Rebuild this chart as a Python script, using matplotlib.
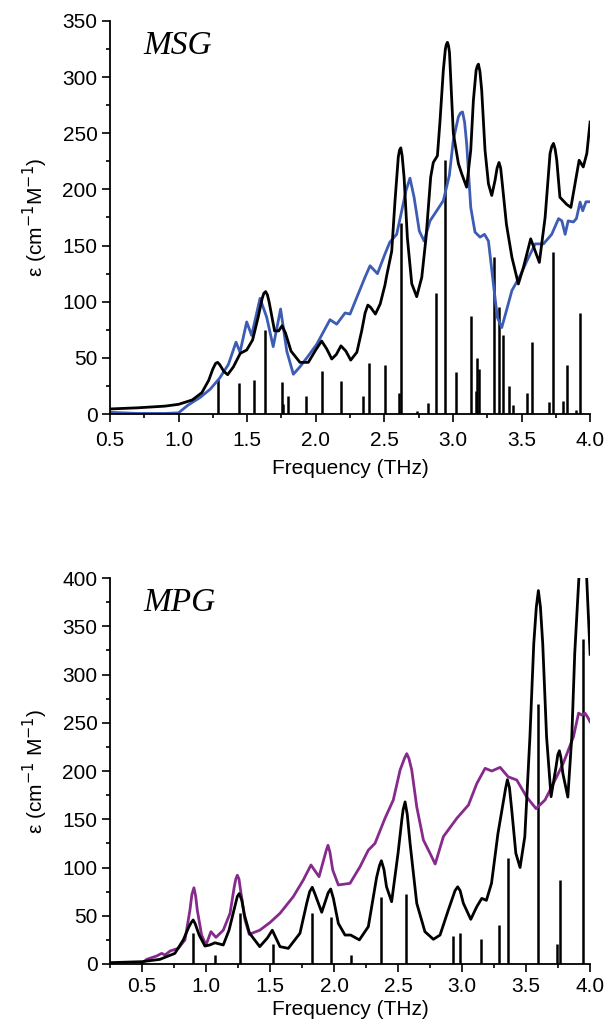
import matplotlib
matplotlib.use("Agg")
import matplotlib.pyplot as plt
from matplotlib.ticker import MultipleLocator, FormatStrFormatter

plt.rcParams['font.family'] = ['Liberation Sans', 'DejaVu Sans']

# ---------------- MSG panel ----------------
msg_calc_freq = [0.50, 0.70, 0.90, 1.00, 1.10, 1.17, 1.22, 1.25, 1.27, 1.285, 1.30, 1.33,
                 1.358, 1.40, 1.45, 1.497, 1.54, 1.58, 1.61, 1.622, 1.635, 1.648, 1.66, 1.70,
                 1.73, 1.755, 1.78, 1.82, 1.885, 1.946, 2.00, 2.043, 2.08, 2.117, 2.15, 2.184,
                 2.22, 2.255, 2.30, 2.335, 2.36, 2.38, 2.40, 2.435, 2.47, 2.505, 2.517, 2.554,
                 2.578, 2.602, 2.611, 2.62, 2.63, 2.644, 2.668, 2.70, 2.736, 2.773, 2.804,
                 2.838, 2.857, 2.887, 2.906, 2.93, 2.945, 2.952, 2.96, 2.968, 2.975, 3.003,
                 3.04, 3.064, 3.10, 3.13, 3.149, 3.169, 3.178, 3.186, 3.197, 3.21, 3.234,
                 3.259, 3.283, 3.307, 3.322, 3.336, 3.348, 3.36, 3.39, 3.43, 3.477, 3.514,
                 3.567, 3.63, 3.672, 3.708, 3.72, 3.733, 3.745, 3.757, 3.78, 3.83, 3.86,
                 3.89, 3.92, 3.95, 3.976, 4.00]
msg_calc_eps = [4.5, 5.5, 7.0, 8.6, 12.5, 19, 30, 40, 45, 46, 44, 38,
                35, 42, 54, 57, 66, 86, 103, 107.5, 109, 106, 100, 74,
                74, 78.6, 72, 56, 46, 46, 57, 65, 58, 49, 53, 60.7,
                56, 48, 55, 74, 90, 97, 95, 89, 98, 115, 123, 145,
                190, 229, 235, 237, 230, 211, 157, 116, 104.5, 121.7, 157,
                211, 224, 230, 261, 306, 325, 329, 331, 328, 322, 250,
                223, 214, 202, 235, 279, 306, 310, 311.6, 305, 288, 235,
                205, 194.6, 208, 219, 224, 219, 205, 169, 139.6, 115.8, 130.6,
                156, 135, 175, 232, 238, 241, 236, 226, 193, 186.6, 184,
                205, 226, 220, 232, 260]

msg_exp_freq = [0.50, 0.70, 0.90, 1.00, 1.07, 1.156, 1.23, 1.30, 1.363, 1.419, 1.448, 1.497,
                1.533, 1.594, 1.643, 1.69, 1.744, 1.789, 1.837, 1.885, 1.946, 2.007, 2.104,
                2.153, 2.214, 2.25, 2.31, 2.36, 2.396, 2.45, 2.505, 2.54, 2.59, 2.627, 2.658,
                2.687, 2.717, 2.755, 2.79, 2.833, 2.882, 2.93, 2.974, 3.003, 3.04, 3.055,
                3.07, 3.085, 3.10, 3.13, 3.161, 3.198, 3.23, 3.259, 3.295, 3.324, 3.356,
                3.39, 3.43, 3.49, 3.54, 3.60, 3.66, 3.72, 3.77, 3.794, 3.818, 3.84, 3.878,
                3.90, 3.927, 3.946, 3.97, 4.00]
msg_exp_eps = [1.5, 0.5, 0.5, 1.0, 8, 14.6, 22, 32, 44, 64, 55, 82,
               70, 103, 86, 60, 93.5, 56, 35.4, 42, 51.8, 62, 84,
               80, 90, 89, 107, 122, 132, 125, 142.6, 153, 160, 181, 199,
               210, 193, 163, 154, 172, 181, 190, 212.5, 244, 264.6, 268,
               269, 260, 241, 184, 162, 157.5, 160, 154, 115.8, 86, 77,
               92, 110, 123, 136.6, 151.5, 151.5, 160, 174, 172, 160, 172, 171,
               174, 188.7, 181, 189, 189]

msg_mode_freq = [1.285, 1.443, 1.55, 1.633, 1.752, 1.764, 1.796, 1.929, 2.048, 2.184,
                 2.342, 2.39, 2.505, 2.605, 2.622, 2.736, 2.82, 2.88, 2.94, 3.02, 3.135,
                 3.17, 3.176, 3.19, 3.30, 3.334, 3.366, 3.41, 3.44, 3.54, 3.575, 3.70,
                 3.73, 3.806, 3.83, 3.90, 3.927]
msg_mode_int = [31.5, 27.7, 30, 74.7, 28.6, 9, 16, 16, 38, 29.5,
                15.8, 45, 44, 18.5, 170, 2.7, 9.8, 108, 226, 37.5, 87,
                20.5, 50, 40, 140, 95, 70, 25, 8, 19, 64, 10.7,
                144, 11.6, 43.5, 3.6, 90]

# ---------------- MPG panel ----------------
mpg_calc_freq = [0.25, 0.50, 0.64, 0.757, 0.823, 0.865, 0.885, 0.90, 0.915, 0.947, 0.992,
                 1.03, 1.07, 1.135, 1.18, 1.23, 1.245, 1.26, 1.28, 1.30, 1.34, 1.42, 1.48,
                 1.518, 1.578, 1.643, 1.734, 1.787, 1.81, 1.83, 1.85, 1.904, 1.955, 1.974,
                 1.995, 2.034, 2.086, 2.13, 2.198, 2.268, 2.333, 2.355, 2.37, 2.39, 2.41,
                 2.45, 2.50, 2.53, 2.54, 2.555, 2.572, 2.594, 2.646, 2.71, 2.776, 2.828,
                 2.893, 2.945, 2.966, 2.985, 3.01, 3.068, 3.115, 3.154, 3.19, 3.23, 3.28,
                 3.34, 3.354, 3.37, 3.388, 3.42, 3.453, 3.49, 3.53, 3.56, 3.58, 3.596,
                 3.612, 3.63, 3.66, 3.695, 3.734, 3.748, 3.76, 3.772, 3.787, 3.826, 3.857,
                 3.88, 3.91, 3.93, 3.945, 3.96, 3.98, 4.00]
mpg_calc_eps = [1.4, 2.4, 4.8, 11, 25, 38, 43, 45.6, 42, 30, 18.6,
                19.7, 22, 19.7, 35, 62, 70, 73, 66, 51, 32, 18, 27,
                35, 18, 16.2, 31.8, 63, 75, 79.5, 73, 53.6, 74, 77.7,
                68, 42, 30, 30, 25, 38.7, 90, 102, 107, 98, 80,
                64.6, 114.7, 150, 160, 168, 155, 125, 63, 33.5, 25.6, 30,
                56, 76, 80, 76, 63, 46.3, 59.4, 68, 66, 83.6, 135,
                182, 191, 183, 159.6, 114.7, 100, 132, 235.5, 332, 370, 387,
                370, 332, 235.5, 173.4, 204.5, 217, 221, 214, 197.6, 173, 235.5,
                322, 394.5, 440, 470, 440, 380, 321]

mpg_exp_freq = [0.50, 0.537, 0.615, 0.654, 0.68, 0.72, 0.784, 0.836, 0.875, 0.89, 0.906,
                0.92, 0.932, 0.966, 1.00, 1.039, 1.078, 1.135, 1.188, 1.221, 1.233, 1.245,
                1.258, 1.27, 1.305, 1.338, 1.42, 1.50, 1.578, 1.682, 1.76, 1.82, 1.883,
                1.94, 1.953, 1.968, 1.99, 2.034, 2.125, 2.203, 2.268, 2.32, 2.398, 2.463,
                2.516, 2.55, 2.568, 2.585, 2.607, 2.646, 2.698, 2.75, 2.79, 2.854, 2.959,
                3.05, 3.115, 3.18, 3.232, 3.297, 3.36, 3.427, 3.505, 3.578, 3.648, 3.713,
                3.79, 3.87, 3.91, 3.935, 3.96, 3.98, 4.00]
mpg_exp_eps = [0.7, 4.8, 8.3, 11, 9.3, 13.5, 16.2, 25, 56, 72, 79,
               70, 56, 30, 19.7, 33.5, 27.6, 35, 52.5, 80, 88, 92,
               88, 76.7, 45.6, 30.8, 35, 43, 52.5, 69.8, 87, 102.6, 90.5,
               118, 123, 116, 97.4, 81.9, 83.6, 100.8, 118, 125, 151, 170,
               201, 213, 218, 213, 201, 163, 128.5, 114.7, 103.6, 132, 151,
               164.8, 187, 202.8, 200, 203.8, 194, 190.7, 173, 161, 170, 187,
               208, 235.5, 260, 258, 260, 256, 251]

mpg_mode_freq = [0.901, 1.07, 1.266, 1.52, 1.83, 1.974, 2.13, 2.37, 2.56, 2.93, 2.987,
                 3.148, 3.289, 3.357, 3.596, 3.74, 3.766, 3.943]
mpg_mode_int = [32.4, 9.3, 53, 20.7, 52.5, 49, 9.3, 69.8, 72.5, 29, 32.5,
                25.6, 40.4, 109.5, 269, 21, 87, 336.8]

BLUE = "#3d5cb4"
PURPLE = "#862a8c"

fig = plt.figure(figsize=(6.04, 10.24), dpi=100)
ax1 = fig.add_axes([0.182, 0.5957, 0.795, 0.3838])
ax2 = fig.add_axes([0.182, 0.0586, 0.795, 0.3769])


def style(ax, xlim, ylim, ylabel, title, xpad, lpad):
    ax.set_xlim(*xlim)
    ax.set_ylim(*ylim)
    for s in ("top", "right"):
        ax.spines[s].set_visible(False)
    for s in ("left", "bottom"):
        ax.spines[s].set_linewidth(1.3)
    ax.xaxis.set_major_locator(MultipleLocator(0.5))
    ax.xaxis.set_minor_locator(MultipleLocator(0.25))
    ax.yaxis.set_major_locator(MultipleLocator(50))
    ax.yaxis.set_minor_locator(MultipleLocator(25))
    ax.tick_params(which="major", direction="out", length=5.5, width=1.2, labelsize=15)
    ax.tick_params(axis="x", which="major", pad=xpad)
    ax.tick_params(which="minor", direction="out", length=3, width=1.2)
    ax.xaxis.set_major_formatter(FormatStrFormatter("%.1f"))
    ax.set_xlabel("Frequency (THz)", fontsize=15, labelpad=lpad)
    ax.set_ylabel(ylabel, fontsize=15, labelpad=9)
    ax.text(0.07, 0.975, title, transform=ax.transAxes, fontsize=24,
            family="Liberation Serif", style="italic", va="top", ha="left")


ax1.vlines(msg_mode_freq, 0, msg_mode_int, color="black", lw=1.8)
ax1.plot(msg_exp_freq, msg_exp_eps, color=BLUE, lw=2.0)
ax1.plot(msg_calc_freq, msg_calc_eps, color="black", lw=2.0)
style(ax1, (0.5, 4.0), (0, 350), r"ε (cm$^{-1}$M$^{-1}$)", "MSG", 7, 6)

ax2.vlines(mpg_mode_freq, 0, mpg_mode_int, color="black", lw=1.8)
ax2.plot(mpg_exp_freq, mpg_exp_eps, color=PURPLE, lw=2.0)
ax2.plot(mpg_calc_freq, mpg_calc_eps, color="black", lw=2.0)
style(ax2, (0.25, 4.0), (0, 400), r"ε (cm$^{-1}$ M$^{-1}$)", "MPG", 4, 3)

fig.savefig("out.png", dpi=100)
